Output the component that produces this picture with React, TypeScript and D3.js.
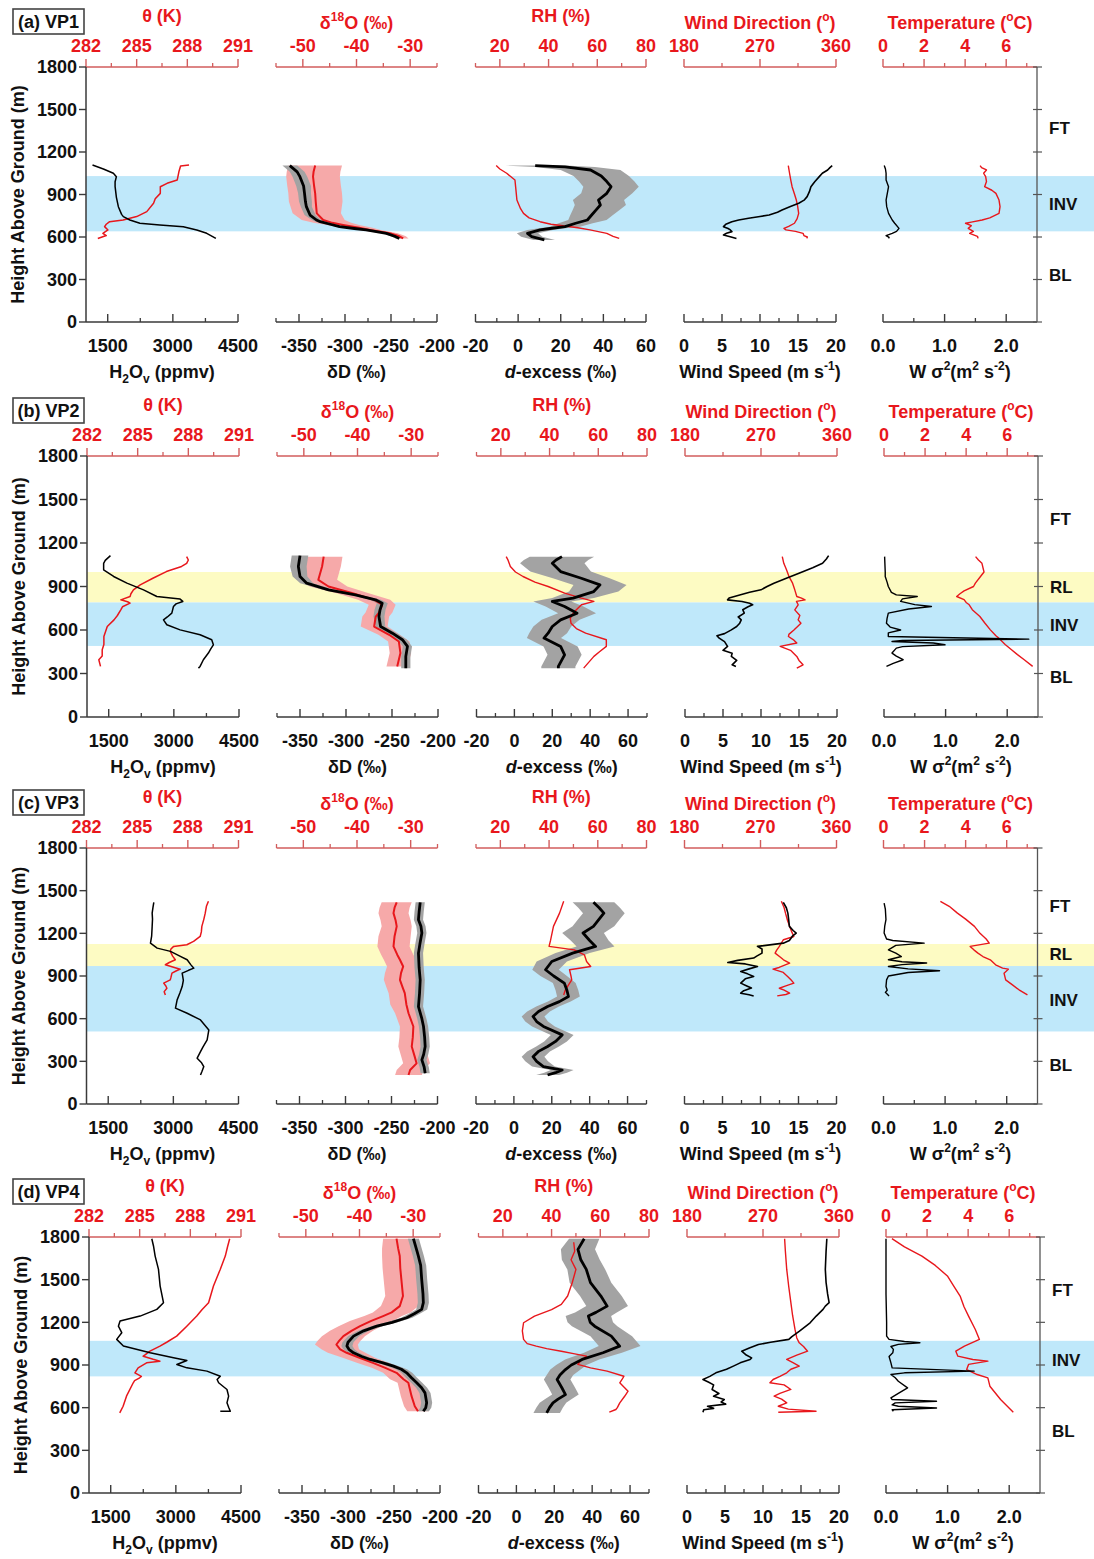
import * as d3 from 'd3';

// profile data: [height above ground (m), value] or [height, value, half-width of shaded band]
const vp1H2O = [[1108,1150],[1080,1400],[1050,1630],[1026,1700],[990,1670],[955,1670],[880,1700],[814,1745],[760,1820],[744,1860],[720,2010],[697,2240],[685,2700],[673,3240],[650,3550],[626,3780],[590,3990]];
const vp1Theta = [[1108,288.1],[1101,287.6],[1060,287.5],[1002,287.4],[979,286.8],[955,286.4],[908,286.4],[870,286.1],[838,286.0],[779,285.6],[744,285.0],[720,284.2],[708,283.4],[690,283.2],[673,283.1],[650,283.3],[626,283.0],[610,283.2],[590,282.7]];
const vp1dD = [[1104,-360,8],[1060,-352,8],[1026,-349,8],[960,-345,8],[908,-344,7],[850,-343,7],[814,-342,6],[755,-338,6],[720,-331,5],[708,-327,5],[690,-316,5],[673,-306,4],[660,-290,4],[650,-277,4],[626,-255,4],[605,-246,4],[590,-241,4]];
const vp1d18O = [[1104,-47.7,5],[1060,-48.0,5],[1026,-48.1,5],[960,-47.9,5],[908,-47.7,5],[850,-47.6,5],[767,-47.4,4.5],[720,-46.2,4],[700,-44.5,3.5],[685,-42.5,3],[665,-39.5,2.5],[650,-37.5,2],[626,-33.8,1.5],[605,-32.0,1.2],[590,-31.3,1]];
const vp1Dex = [[1104,8,14],[1095,22,14],[1073,34,14],[1030,39,13],[991,41.6,13],[955,43.6,13],[908,41.6,12],[861,37.7,12],[826,38.6,12],[791,36.6,11],[755,34.5,10],[720,32.5,9],[697,27,8],[673,22,7],[660,15,6],[650,10.3,6],[626,4.4,5],[602,6.4,5],[579,12.3,5]];
const vp1RH = [[1104,18.5],[1080,20],[1050,22.8],[1002,26.2],[950,26.5],[861,27],[800,28.5],[767,29.7],[735,32],[708,36.5],[690,41],[678,46.7],[665,52],[650,57],[626,63.9],[605,66.5],[590,69]];
const vp1WS = [[1104,19.5],[1090,19.2],[1073,18.9],[1050,18.2],[1026,17.8],[990,17.2],[955,16.7],[920,16.5],[885,16.2],[860,15.8],[838,15.1],[815,14.0],[791,12.9],[775,12.3],[755,11.2],[745,10.0],[732,8.5],[720,7.2],[708,6.3],[690,5.5],[673,5.2],[660,5.8],[650,6.1],[638,6.3],[626,5.6],[614,5.2],[600,6.2],[590,6.9]];
const vp1WD = [[1104,303.5],[1050,305],[1000,306.5],[955,308],[900,311],[861,313],[820,314.5],[767,315.8],[730,314],[697,310.8],[675,304],[661,298.4],[650,300.8],[640,312],[626,321],[610,322],[600,326],[590,325.6]];
const vp1W = [[1104,0.02],[1080,0.04],[1050,0.05],[1002,0.05],[955,0.09],[908,0.07],[861,0.05],[814,0.06],[767,0.09],[720,0.15],[697,0.19],[661,0.26],[640,0.22],[626,0.15],[610,0.05],[598,0.1],[590,0.09]];
const vp1T = [[1104,4.73],[1090,4.8],[1073,5.04],[1050,4.9],[1026,5.0],[991,5.04],[955,4.95],[930,5.3],[908,5.5],[861,5.65],[814,5.7],[767,5.65],[735,5.2],[720,4.83],[705,4.3],[697,4.02],[680,4.3],[661,4.15],[640,4.4],[626,4.22],[605,4.6],[590,4.63]];

const vp2H2O = [[1113,1540],[1080,1420],[1060,1383],[1015,1383],[969,1613],[923,1919],[877,2302],[831,2608],[813,3144],[797,3206],[780,3050],[762,2991],[716,2953],[690,2850],[670,2761],[636,2838],[601,3144],[567,3604],[533,3872],[498,3910],[470,3850],[441,3795],[395,3680],[349,3604],[337,3566]];
const vp2Theta = [[1106,287.9],[1083,288.0],[1060,287.9],[1038,287.6],[1003,286.7],[957,285.9],[911,285.15],[877,284.75],[850,284.6],[831,284.55],[808,284.0],[795,284.4],[785,284.55],[760,284.1],[739,284.0],[700,283.8],[670,283.6],[624,283.2],[590,283.1],[555,283.0],[500,283.0],[464,282.9],[420,282.9],[395,282.7],[349,282.8]];
const vp2dD = [[1113,-350,9],[1038,-351.8,9],[969,-350,8],[923,-342.7,7],[877,-319,6],[842,-289.8,6],[808,-267.9,6],[785,-260.6,6],[740,-263,6],[693,-264.2,6],[624,-262.4,5],[578,-249.6,5],[533,-238.7,5],[487,-233.2,5],[418,-235,5],[337,-235,5]];
const vp2d18O = [[1106,-46.3,3.5],[1038,-46.6,3.5],[946,-47.3,3.5],[900,-45.4,3.5],[854,-40.9,3],[808,-36.9,3],[774,-35.4,2.5],[720,-36.0,2.5],[693,-36.6,2.5],[624,-36.9,2.5],[567,-34.1,2],[521,-32.3,2],[441,-32.0,2],[349,-32.6,2]];
const vp2Dex = [[1106,25.1,17],[1083,22,17],[1060,20,17],[1003,24.4,16],[957,35.3,15],[911,45.2,14],[865,41.9,13],[820,31,11],[797,20,10],[762,26.5,10],[716,33.1,10],[670,24.4,10],[624,20,10],[578,17.8,10],[544,15.6,9],[487,24.4,9],[429,26.5,9],[349,23.2,9],[337,23.2,9]];
const vp2RH = [[1106,22.2],[1080,23],[1038,23.9],[1000,26],[969,29.1],[930,34],[900,39.4],[854,46.2],[820,53.1],[797,58.2],[774,53.1],[740,51],[716,49.7],[680,48.5],[647,48.8],[610,51],[578,54.8],[533,63.3],[487,63.3],[450,60.5],[418,58.2],[337,54]];
const vp2WS = [[1113,18.9],[1090,18.6],[1060,18.1],[1030,16.8],[992,15],[960,13.5],[923,11.7],[900,10.8],[877,10],[860,8.5],[842,7.2],[820,5.8],[808,5.6],[797,7.5],[785,8.5],[774,8.9],[760,8.3],[740,7.6],[716,7.8],[690,7.0],[670,7.4],[647,7.2],[624,6.8],[601,6.1],[575,5.2],[560,4.2],[544,4.5],[520,5.2],[487,5.6],[460,5.0],[440,6.2],[418,6.1],[390,6.8],[360,6.2],[349,6.7]];
const vp2WD = [[1106,295.2],[1060,297],[1015,300.2],[970,303],[923,307.4],[877,310],[831,312.4],[820,318],[808,322.2],[797,312],[774,314],[739,310],[700,316],[670,314],[647,317.3],[600,309],[570,303],[555,302.5],[530,309],[510,312.4],[487,292.7],[460,305],[418,312.4],[390,315],[360,319.8],[337,312.4]];
const vp2W = [[1106,0.01],[1000,0.02],[969,0.02],[930,0.05],[900,0.07],[860,0.12],[842,0.2],[831,0.54],[815,0.3],[797,0.27],[775,0.5],[762,0.77],[745,0.4],[716,0.07],[680,0.05],[647,0.04],[620,0.1],[600,0.27],[580,0.07],[555,0.07],[537,2.35],[528,0.3],[521,0.13],[510,0.8],[498,0.99],[485,0.3],[475,0.2],[441,0.13],[420,0.2],[395,0.31],[370,0.15],[349,0.04]];
const vp2T = [[1106,4.46],[1083,4.6],[1060,4.77],[1000,4.87],[969,4.7],[923,4.45],[900,4.36],[870,3.9],[850,3.7],[831,3.54],[810,3.9],[790,4.0],[774,4.15],[740,4.3],[693,4.67],[650,4.9],[601,5.18],[560,5.45],[544,5.59],[500,5.9],[464,6.21],[430,6.5],[395,6.83],[349,7.24]];

const vp3H2O = [[1418,2550],[1380,2530],[1342,2512],[1300,2520],[1249,2512],[1180,2500],[1131,2473],[1096,2627],[1073,2934],[1040,3150],[1014,3318],[980,3400],[955,3471],[940,3350],[920,3203],[870,3230],[826,3203],[780,3150],[732,3087],[674,3049],[638,3318],[591,3625],[521,3817],[451,3778],[400,3680],[368,3625],[322,3548],[290,3650],[263,3701],[230,3660],[204,3625]];
const vp3Theta = [[1425,289.22],[1390,289.1],[1342,289.03],[1300,288.95],[1249,288.83],[1210,288.8],[1178,288.73],[1143,288.34],[1120,287.94],[1108,287.16],[1090,287.0],[1073,286.96],[1040,287.1],[1014,287.26],[995,286.9],[979,286.67],[960,287.2],[948,287.55],[935,287.3],[920,287.06],[890,287.0],[873,286.96],[850,286.57],[830,286.7],[814,286.76],[790,286.6],[767,286.67]];
const vp3dD = [[1418,-218.8,5],[1350,-220,5],[1296,-220.7,5],[1250,-218,5],[1202,-217,5],[1130,-219,5],[1061,-220.7,5],[960,-220,5],[873,-218.8,5],[780,-219.5,5],[685,-220.7,5],[600,-217,5],[545,-215.2,5],[470,-214,5],[404,-213.4,5],[350,-215,5],[310,-217,5],[260,-214.5,5],[216,-213.4,5]];
const vp3d18O = [[1418,-32.6,2.8],[1380,-33,2.8],[1342,-33.2,2.8],[1290,-32.8,2.8],[1249,-32.6,2.8],[1180,-33,3],[1108,-33.2,3],[1050,-32.5,3],[1014,-32,3],[967,-31.4,3],[920,-31.8,3],[873,-32,3],[820,-31.5,3],[779,-31.1,3],[700,-30.8,3],[638,-30.4,2.5],[545,-29.5,2.5],[470,-29.6,2.5],[404,-29.8,2.5],[340,-29.3,2.5],[286,-28.9,2.5],[239,-30.1,2.5],[204,-30.4,2.5]];
const vp3Dex = [[1418,42,11],[1380,45,11],[1342,47.5,11],[1300,45,11],[1249,42,11],[1202,36.5,11],[1150,40,10],[1108,43.1,10],[1061,31,9],[1002,20,8],[944,16.7,7],[900,21,7],[850,26.6,6],[800,28,6],[756,28.8,6],[720,24,6],[685,17.8,6],[650,13,6],[615,10.1,6],[580,12,6],[545,15.6,6],[486,25.5,6],[440,22,6],[404,17.8,6],[370,13,6],[333,10.1,6],[300,12,6],[263,15.6,6],[239,25.5,6],[220,22,6],[204,17.8,6]];
const vp3RH = [[1425,46],[1342,44.3],[1249,41.8],[1150,40.6],[1108,40],[1084,50.3],[1049,54.5],[1002,55.4],[967,57.1],[944,48.4],[900,49],[873,49.3],[803,46.7],[767,46]];
const vp3WS = [[1418,13],[1380,13.4],[1342,13.6],[1300,13.7],[1249,13.8],[1220,14.3],[1202,14.7],[1180,14.2],[1150,13.8],[1131,13],[1108,9.6],[1090,10.2],[1061,10.2],[1040,9.5],[1026,9.1],[1010,7],[995,5.7],[985,8],[967,9.6],[950,8.5],[932,7.4],[915,8.3],[897,9.1],[880,8.0],[850,7.4],[830,8.2],[815,8.8],[797,7.8],[779,7.4],[768,8.5],[760,9.1]];
const vp3WD = [[1425,294.7],[1380,298],[1342,299.6],[1290,302],[1249,304.5],[1210,307],[1178,309.5],[1155,297.2],[1108,292.3],[1080,289],[1061,287.3],[1030,294],[1014,297.2],[991,304.5],[960,292],[948,284.8],[925,297],[897,302.1],[873,306],[850,309.5],[830,300],[814,292.3],[800,298],[779,304.5],[770,300],[760,289.8]];
const vp3W = [[1413,0.01],[1370,0.03],[1296,0.04],[1250,0.02],[1202,0.01],[1160,0.05],[1150,0.15],[1131,0.66],[1115,0.2],[1084,0.08],[1061,0.2],[1037,0.29],[1014,0.08],[1000,0.3],[991,0.7],[980,0.3],[967,0.08],[950,0.4],[937,0.91],[925,0.4],[900,0.08],[873,0.05],[826,0.04],[800,0.06],[785,0.03],[760,0.09]];
const vp3T = [[1425,2.77],[1390,3.2],[1342,3.6],[1300,4.0],[1249,4.43],[1200,4.7],[1160,5.0],[1131,5.15],[1108,4.22],[1084,4.4],[1061,4.6],[1037,4.84],[1014,5.2],[979,5.46],[955,5.8],[948,6.08],[920,5.87],[873,5.95],[838,6.28],[803,6.6],[767,7.01]];

const vp4H2O = [[1788,2446],[1737,2485],[1666,2523],[1572,2600],[1455,2638],[1338,2715],[1291,2562],[1244,2177],[1209,1715],[1173,1677],[1127,1754],[1080,1638],[1033,1792],[986,2408],[951,2946],[932,3254],[904,3023],[880,3254],[857,3715],[821,4023],[798,3950],[775,3985],[728,4177],[681,4215],[634,4177],[600,4220],[575,4254],[575,4023]];
const vp4Theta = [[1788,290.33],[1730,290.2],[1666,290.07],[1572,289.77],[1455,289.37],[1338,289.08],[1290,288.7],[1244,288.38],[1173,287.79],[1103,287.19],[1060,286.6],[1033,286.2],[997,285.61],[970,285.3],[962,285.21],[940,285.8],[927,286.2],[915,285.41],[880,284.91],[845,284.72],[820,285.1],[810,285.0],[790,284.7],[775,284.62],[681,284.22],[610,284.02],[563,283.82]];
const vp4dD = [[1788,-228.9,6],[1700,-225,6],[1666,-223.5,6],[1600,-221,6],[1502,-219.9,6],[1400,-218.5,6],[1338,-218.1,6],[1291,-219.9,6],[1260,-228,6],[1232,-236.2,6],[1200,-252,6],[1173,-268.7,6],[1140,-283,6],[1103,-294,6],[1060,-300,6],[1033,-301.2,6],[1010,-299,6],[986,-294,6],[960,-285,6],[939,-275.9,6],[915,-262,6],[892,-250.6,6],[870,-242,6],[845,-236.2,6],[810,-231,6],[775,-225.3,6],[740,-220,6],[704,-216.3,6],[634,-214.5,6],[600,-215.5,6],[575,-218.1,6]];
const vp4d18O = [[1788,-33.1,2.5],[1720,-32.8,3],[1666,-32.5,3.3],[1580,-32.4,3.3],[1502,-32.2,3.3],[1385,-31.9,3.3],[1314,-32.5,3.5],[1270,-34,3.5],[1244,-35.6,3.5],[1210,-37.8,4],[1173,-39.9,4],[1140,-41.5,4],[1103,-43,4],[1070,-43.8,4],[1044,-44.3,4],[1010,-43.6,3.5],[986,-42.4,3.5],[950,-40,3],[915,-37.5,3],[880,-35.2,2.5],[845,-33.1,2.5],[800,-31.8,2.5],[775,-30.9,2],[681,-30.3,2],[610,-29.7,2],[575,-29.1,2]];
const vp4Dex = [[1788,35.8,8],[1713,32.5,9],[1640,34,10],[1572,36.9,10],[1479,39.1,11],[1385,44.6,11],[1314,47.9,11],[1270,42,11],[1244,38,12],[1200,39,12],[1173,41.3,12],[1103,50.1,11],[1033,54.5,11],[986,45.7,10],[939,34.7,9],[900,29,8],[868,25.9,8],[830,23,7],[798,21.5,7],[740,24,7],[692,25.9,7],[660,22,7],[634,19.3,7],[600,17.5,7],[563,16,7]];
const vp4RH = [[1763,49.1],[1700,49.5],[1640,48],[1572,50],[1480,48.5],[1385,46.6],[1326,44],[1290,40],[1244,33],[1197,28.5],[1140,28],[1080,28.5],[1050,30],[1033,33.7],[1015,38],[997,44],[980,49],[962,54.3],[930,52],[904,50.8],[880,56],[857,62.8],[821,69.7],[800,69],[775,68],[740,70],[716,71.4],[680,70],[634,68],[600,67],[587,66.4],[568,63.7]];
const vp4WS = [[1788,18.4],[1700,18.3],[1572,18.2],[1480,18.3],[1400,18.5],[1338,18.7],[1314,18.2],[1291,17.9],[1244,17.0],[1197,16.2],[1138,14.8],[1100,13.8],[1080,13.4],[1060,11],[1044,9.4],[1020,8.2],[997,7.2],[970,7.8],[950,8.5],[939,8.3],[915,7.0],[892,6.1],[870,5.2],[845,3.8],[820,3.0],[798,2.1],[780,2.8],[760,3.5],[728,3.3],[700,4.2],[680,3.5],[657,4.9],[640,4.5],[625,5.1],[610,2.7],[595,3.5],[585,2.2],[568,2.1]];
const vp4WD = [[1788,295.6],[1700,296.5],[1572,298.1],[1450,300.5],[1338,303],[1250,305],[1150,307.9],[1090,310],[1056,312.9],[1030,318],[997,322.8],[970,310],[939,298.1],[915,306],[892,312.9],[870,303],[845,298.1],[820,290],[798,282],[775,278.2],[760,295],[728,303],[700,290],[681,283.2],[660,292],[634,298.1],[610,288.1],[590,300],[575,332.8],[568,288.1]];
const vp4W = [[1788,0],[1400,0],[1200,0.01],[1103,0.01],[1080,0.05],[1065,0.3],[1056,0.55],[1045,0.2],[1030,0.08],[1010,0.12],[986,0.11],[960,0.05],[915,0.08],[880,0.1],[857,1.43],[845,0.3],[833,0.08],[810,0.15],[786,0.2],[739,0.35],[700,0.2],[669,0.08],[657,0.1],[645,0.82],[634,0.15],[620,0.1],[610,0.2],[598,0.82],[585,0.1],[575,0.12]];
const vp4T = [[1788,0.29],[1730,0.9],[1666,1.75],[1600,2.4],[1526,2.99],[1455,3.3],[1385,3.61],[1310,3.8],[1244,4.02],[1150,4.35],[1080,4.55],[1033,3.82],[997,3.4],[962,3.5],[939,4.23],[927,4.96],[904,4.02],[868,3.93],[833,4.44],[810,4.96],[751,5.06],[657,5.58],[568,6.2]];

// layers: [name, bottom (m), top (m)]; zone labels: [name, height (m)]
const vp1Layers = [['INV', 640, 1030]];
const vp2Layers = [['RL', 790, 1000], ['INV', 490, 790]];
const vp3Layers = [['RL', 970, 1125], ['INV', 510, 970]];
const vp4Layers = [['INV', 820, 1070]];
const vp1Zones = [['FT', 1369], ['INV', 833], ['BL', 330]];
const vp2Zones = [['FT', 1364], ['RL', 898], ['INV', 634], ['BL', 278]];
const vp3Zones = [['FT', 1394], ['RL', 1056], ['INV', 732], ['BL', 275]];
const vp4Zones = [['FT', 1427], ['INV', 939], ['BL', 434]];

// ticks
const heightTicks = [0, 300, 600, 900, 1200, 1500, 1800];
const h2oTicks = [1500, 3000, 4500];
const h2oMinor = [2250, 3750];
const dDTicks = [-350, -300, -250, -200];
const dDMinor = [-375, -325, -275, -225];
const dexTicks = [-20, 0, 20, 40, 60];
const dexMinorA = [-10, 10, 30, 50];
const dexMinorB = [-10, 10, 30, 50, 70];
const wsTicks = [0, 5, 10, 15, 20];
const wsMinor = [2.5, 7.5, 12.5, 17.5];
const wvTicks = [0, 1, 2];
const wvMinor = [0.5, 1.5];
const thetaTicks = [282, 285, 288, 291];
const thetaMinor = [283.5, 286.5, 289.5];
const d18OTicks = [-50, -40, -30];
const d18OMinor = [-55, -45, -35, -25];
const rhTicks = [20, 40, 60, 80];
const rhMinor = [10, 30, 50, 70];
const wdTicks = [180, 270, 360];
const wdMinor = [225, 315];
const tempTicks = [0, 2, 4, 6];
const tempMinor = [1, 3, 5, 7];

const ROWS = [
  { tag: '(a) VP1', series: [[vp1H2O, vp1Theta], [vp1dD, vp1d18O], [vp1Dex, vp1RH], [vp1WS, vp1WD], [vp1W, vp1T]], layers: vp1Layers, zones: vp1Zones, dexDomain: [-20, 60], dexMinor: dexMinorA },
  { tag: '(b) VP2', series: [[vp2H2O, vp2Theta], [vp2dD, vp2d18O], [vp2Dex, vp2RH], [vp2WS, vp2WD], [vp2W, vp2T]], layers: vp2Layers, zones: vp2Zones, dexDomain: [-20, 70], dexMinor: dexMinorB },
  { tag: '(c) VP3', series: [[vp3H2O, vp3Theta], [vp3dD, vp3d18O], [vp3Dex, vp3RH], [vp3WS, vp3WD], [vp3W, vp3T]], layers: vp3Layers, zones: vp3Zones, dexDomain: [-20, 70], dexMinor: dexMinorB },
  { tag: '(d) VP4', series: [[vp4H2O, vp4Theta], [vp4dD, vp4d18O], [vp4Dex, vp4RH], [vp4WS, vp4WD], [vp4W, vp4T]], layers: vp4Layers, zones: vp4Zones, dexDomain: [-20, 70], dexMinor: dexMinorB },
];

const W = 1094;
const H = 1559;
const ROW_TOP = [67, 456, 848, 1237];
const ROW_H = [255, 261, 256, 256];
const ROW_DX = [0, 1, 0.5, 3];
const PANEL_X = [[86, 238], [276, 437], [475.5, 646], [684, 836], [883, 1037]];

const FONT = '"Liberation Sans", Arial, Helvetica, sans-serif';
const RED = '#e8171c';
const RED_AXIS = '#d25c5c';
const AXIS = '#3a3a3a';
const LAYER_FILL = { INV: '#bfe8fa', RL: '#fdfbc3' };
const MAJOR = 8;
const MINOR = 4;

const COLS = [
  { bottom: [1000, 4500], bTicks: h2oTicks, bMinor: h2oMinor, bFmt: (d) => String(d),
    top: [282, 291], tTicks: thetaTicks, tMinor: thetaMinor, tFmt: (d) => String(d),
    blackW: 1.5, redW: 1.5 },
  { bottom: [-375, -200], bTicks: dDTicks, bMinor: dDMinor, bFmt: (d) => String(d),
    top: [-55, -25], tTicks: d18OTicks, tMinor: d18OMinor, tFmt: (d) => String(d),
    blackW: 2.8, redW: 2, blackBand: '#a3a3a3', redBand: '#f6a9a9' },
  { bottom: null, bTicks: dexTicks, bMinor: null, bFmt: (d) => String(d),
    top: [10, 80], tTicks: rhTicks, tMinor: rhMinor, tFmt: (d) => String(d),
    blackW: 2.8, redW: 1.4, blackBand: '#a3a3a3' },
  { bottom: [0, 20], bTicks: wsTicks, bMinor: wsMinor, bFmt: (d) => String(d),
    top: [180, 360], tTicks: wdTicks, tMinor: wdMinor, tFmt: (d) => String(d),
    blackW: 1.6, redW: 1.4 },
  { bottom: [0, 2.5], bTicks: wvTicks, bMinor: wvMinor, bFmt: (d) => d.toFixed(1),
    top: [0, 7.5], tTicks: tempTicks, tMinor: tempMinor, tFmt: (d) => String(d),
    blackW: 1.4, redW: 1.4 },
];

const SUP = { fontSize: 12 };

function BottomTitle({ c, x, y }) {
  const common = { x, y, textAnchor: 'middle' as const, fontSize: 18, fill: '#111' };
  if (c === 0)
    return (
      <text {...common}>
        H<tspan dy={5} fontSize={12}>2</tspan><tspan dy={-5}>O</tspan><tspan dy={5} fontSize={12}>v</tspan><tspan dy={-5}> (ppmv)</tspan>
      </text>
    );
  if (c === 1) return <text {...common}>δD (‰)</text>;
  if (c === 2)
    return (
      <text {...common}>
        <tspan fontStyle="italic">d</tspan>-excess (‰)
      </text>
    );
  if (c === 3)
    return (
      <text {...common}>
        Wind Speed (m s<tspan dy={-8} {...SUP}>-1</tspan><tspan dy={8}>)</tspan>
      </text>
    );
  return (
    <text {...common}>
      W σ<tspan dy={-8} {...SUP}>2</tspan><tspan dy={8}>(m</tspan><tspan dy={-8} {...SUP}>2</tspan><tspan dy={8}> s</tspan><tspan dy={-8} {...SUP}>-2</tspan><tspan dy={8}>)</tspan>
    </text>
  );
}

function TopTitle({ c, x, T }) {
  const common = { x, textAnchor: 'middle' as const, fontSize: 18, fill: RED };
  if (c === 0) return <text {...common} y={T - 45}>θ (K)</text>;
  if (c === 1)
    return (
      <text {...common} y={T - 38}>
        δ<tspan dy={-8} {...SUP}>18</tspan><tspan dy={8}>O (‰)</tspan>
      </text>
    );
  if (c === 2) return <text {...common} y={T - 45}>RH (%)</text>;
  if (c === 3)
    return (
      <text {...common} y={T - 38}>
        Wind Direction (<tspan dy={-8} {...SUP}>o</tspan><tspan dy={8}>)</tspan>
      </text>
    );
  return (
    <text {...common} y={T - 38}>
      Temperature (<tspan dy={-8} {...SUP}>o</tspan><tspan dy={8}>C)</tspan>
    </text>
  );
}

function Panel({ row, r, c }) {
  const col = COLS[c];
  const T = ROW_TOP[r];
  const B = T + ROW_H[r];
  const dx = ROW_DX[r];
  const x0 = PANEL_X[c][0] + dx;
  const x1 = PANEL_X[c][1] + dx;
  const y = d3.scaleLinear().domain([0, 1800]).range([B, T]);
  const xb = d3.scaleLinear().domain(col.bottom || row.dexDomain).range([x0, x1]);
  const xt = d3.scaleLinear().domain(col.top).range([x0, x1]);
  const bMinor = col.bMinor || row.dexMinor;
  const [black, red] = row.series[c];

  const line = (xs) => d3.line<number[]>().x((d) => xs(d[1])).y((d) => y(d[0]));
  const area = (xs) =>
    d3.area<number[]>().y((d) => y(d[0])).x0((d) => xs(d[1] - d[2])).x1((d) => xs(d[1] + d[2]));

  return (
    <g>
      {col.redBand && <path d={area(xt)(red) || ''} fill={col.redBand} />}
      {col.blackBand && <path d={area(xb)(black) || ''} fill={col.blackBand} />}
      <path d={line(xt)(red) || ''} fill="none" stroke={RED} strokeWidth={col.redW} strokeLinejoin="round" />
      <path d={line(xb)(black) || ''} fill="none" stroke="#000" strokeWidth={col.blackW} strokeLinejoin="round" />

      {/* top axis */}
      <line x1={x0} x2={x1} y1={T} y2={T} stroke={RED_AXIS} strokeWidth={1.5} />
      {col.tTicks.map((v) => (
        <line key={'tt' + v} x1={xt(v)} x2={xt(v)} y1={T} y2={T - MAJOR} stroke={RED_AXIS} strokeWidth={1.4} />
      ))}
      {col.tMinor.map((v) => (
        <line key={'tm' + v} x1={xt(v)} x2={xt(v)} y1={T} y2={T - MINOR} stroke={RED_AXIS} strokeWidth={1.3} />
      ))}
      {col.tTicks.map((v) => (
        <text key={'tl' + v} x={xt(v)} y={T - 15} textAnchor="middle" fontSize={18} fill={RED}>
          {col.tFmt(v)}
        </text>
      ))}
      <TopTitle c={c} x={(x0 + x1) / 2} T={T} />

      {/* bottom axis */}
      <line x1={x0} x2={x1} y1={B} y2={B} stroke={AXIS} strokeWidth={1.5} />
      {col.bTicks.map((v) => (
        <line key={'bt' + v} x1={xb(v)} x2={xb(v)} y1={B} y2={B - MAJOR} stroke={AXIS} strokeWidth={1.4} />
      ))}
      {bMinor.map((v) => (
        <line key={'bm' + v} x1={xb(v)} x2={xb(v)} y1={B} y2={B - MINOR} stroke={AXIS} strokeWidth={1.3} />
      ))}
      {col.bTicks.map((v) => (
        <text key={'bl' + v} x={xb(v)} y={B + 30} textAnchor="middle" fontSize={18} fill="#111">
          {col.bFmt(v)}
        </text>
      ))}
      <BottomTitle c={c} x={(x0 + x1) / 2} y={B + 56} />
    </g>
  );
}

function Row({ row, r }) {
  const T = ROW_TOP[r];
  const B = T + ROW_H[r];
  const dx = ROW_DX[r];
  const y = d3.scaleLinear().domain([0, 1800]).range([B, T]);
  const left = PANEL_X[0][0] + dx;
  const right = PANEL_X[4][1] + dx;
  return (
    <g>
      {row.layers.map(([name, lo, hi]) => (
        <rect key={name} x={left} y={y(hi)} width={W - left} height={y(lo) - y(hi)} fill={LAYER_FILL[name]} />
      ))}
      {row.series.map((_, c) => (
        <Panel key={c} row={row} r={r} c={c} />
      ))}

      {/* left height axis */}
      <line x1={left} x2={left} y1={T} y2={B} stroke={AXIS} strokeWidth={1.5} />
      {heightTicks.map((h) => (
        <g key={h}>
          <line x1={left - 7} x2={left} y1={y(h)} y2={y(h)} stroke={AXIS} strokeWidth={1.4} />
          <text x={left - 9} y={y(h)} dy="0.36em" textAnchor="end" fontSize={18} fill="#111">
            {h}
          </text>
        </g>
      ))}
      <text
        transform={`translate(${18 + dx},${(T + B) / 2}) rotate(-90)`}
        dy="0.36em"
        textAnchor="middle"
        fontSize={18}
        fill="#111"
      >
        Height Above Ground (m)
      </text>

      {/* right axis with layer names */}
      <line x1={right} x2={right} y1={T} y2={B} stroke="#555" strokeWidth={1.3} />
      {heightTicks.map((h) => (
        <line key={'r' + h} x1={right - 4} x2={right + 5} y1={y(h)} y2={y(h)} stroke="#555" strokeWidth={1.2} />
      ))}
      {row.zones.map(([name, h]) => (
        <text key={name} x={right + 12} y={y(h)} dy="0.36em" fontSize={17} fill="#111">
          {name}
        </text>
      ))}

      {/* panel tag */}
      <rect x={13} y={T - 58} width={71} height={25} fill="#fff" stroke="#444" strokeWidth={1.6} />
      <text x={48.5} y={T - 45.5} dy="0.36em" textAnchor="middle" fontSize={18} fill="#111">
        {row.tag}
      </text>
    </g>
  );
}

export default function App() {
  return (
    <svg
      width={W}
      height={H}
      viewBox={`0 0 ${W} ${H}`}
      style={{ position: 'absolute', left: 0, top: 0, display: 'block', background: '#fff' }}
      fontFamily={FONT}
      fontWeight="bold"
    >
      {ROWS.map((row, r) => (
        <Row key={r} row={row} r={r} />
      ))}
    </svg>
  );
}
